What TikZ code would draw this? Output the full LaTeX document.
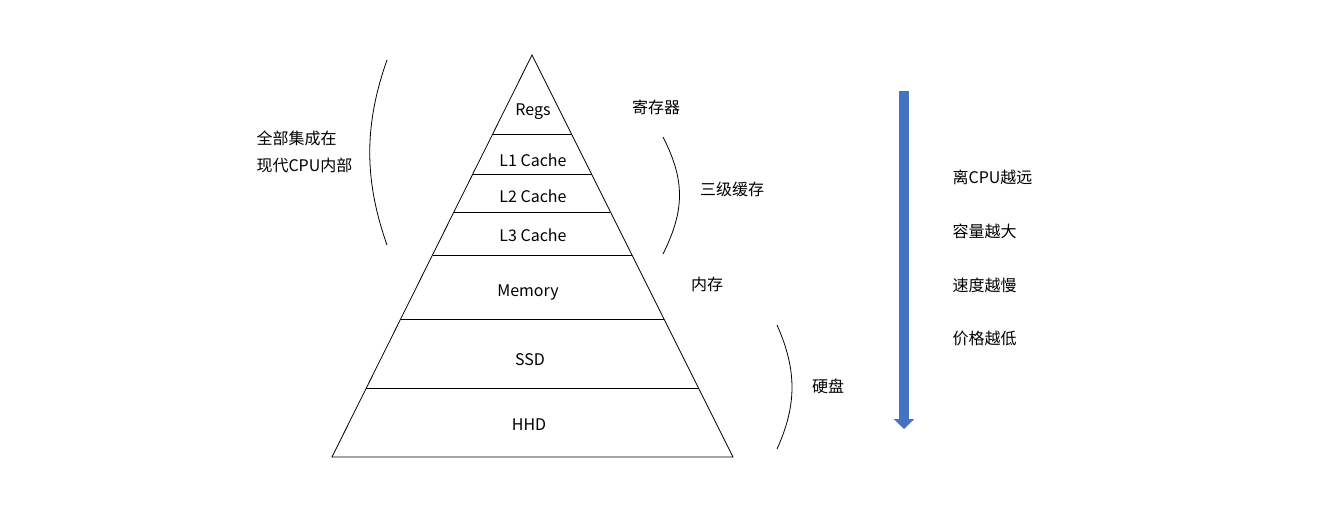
\documentclass[tikz,border=0pt]{standalone}
\usepackage{fontspec}
\setmainfont{Noto Sans CJK SC}
\usetikzlibrary{calc,arrows.meta}
\definecolor{arrowblue}{HTML}{4472C4}
\tikzset{
  layer/.style={font=\fontsize{16}{19}\selectfont,text depth=0pt},
  note/.style={font=\fontsize{16}{19}\selectfont},
  thinline/.style={black,line width=0.8pt},
  bigarrow/.style={arrowblue,line width=10pt,-{Triangle[width=20pt,length=10pt]}}
}
\begin{document}
\begin{tikzpicture}[x=1pt,y=-1pt]
            \useasboundingbox[fill=white] (0,0) rectangle (1331,514);
            % pyramid
            \coordinate (apex) at (532,55);
            \coordinate (bl) at (332,457);
            \coordinate (br) at (733,457);
            \draw[thinline] (apex) -- (bl) -- (br) -- cycle;
            \foreach \t in {0.1965,0.296,0.3905,0.4975,0.6567,0.8284}
              \draw[thinline] ($(apex)!\t!(bl)$) -- ($(apex)!\t!(br)$);
            \node[layer] (regs) at (533,110) {Regs};
            \node[layer] (lone) at (533,160) {L1 Cache};
            \node[layer] (ltwo) at (533,196) {L2 Cache};
            \node[layer] (lthree) at (533,235) {L3 Cache};
            \node[layer] (mem) at (528,291) {Memory};
            \node[layer] (ssd) at (530,360) {SSD};
            \node[layer] (hhd) at (529,425) {HHD};
            % braces
            \draw[thinline] (387,60) .. controls (364,125) and (364,180) .. (387,245);
            \draw[thinline] (663,137) .. controls (685,180) and (685,210) .. (663,254);
            \draw[thinline] (777,325) .. controls (797,370) and (797,405) .. (777,449);
            \node[note,anchor=west] (cpua) at (253,138) {全部集成在};
            \node[note,anchor=west] (cpub) at (253,165) {现代CPU内部};
            \node[note] (reg) at (656,107) {寄存器};
            \node[note] (cache) at (732,189) {三级缓存};
            \node[note] (ram) at (707,284) {内存};
            \node[note] (disk) at (828,386) {硬盘};
            % arrow
            \coordinate (arrtop) at (904,91);
            \coordinate (arrtip) at (904,429);
            \draw[bigarrow] (arrtop) -- (arrtip);
            \node[note,anchor=west] (far) at (949,177) {离CPU越远};
            \node[note,anchor=west] (big) at (949,231) {容量越大};
            \node[note,anchor=west] (slow) at (949,285) {速度越慢};
            \node[note,anchor=west] (cheap) at (949,338) {价格越低};
\end{tikzpicture}
\end{document}
